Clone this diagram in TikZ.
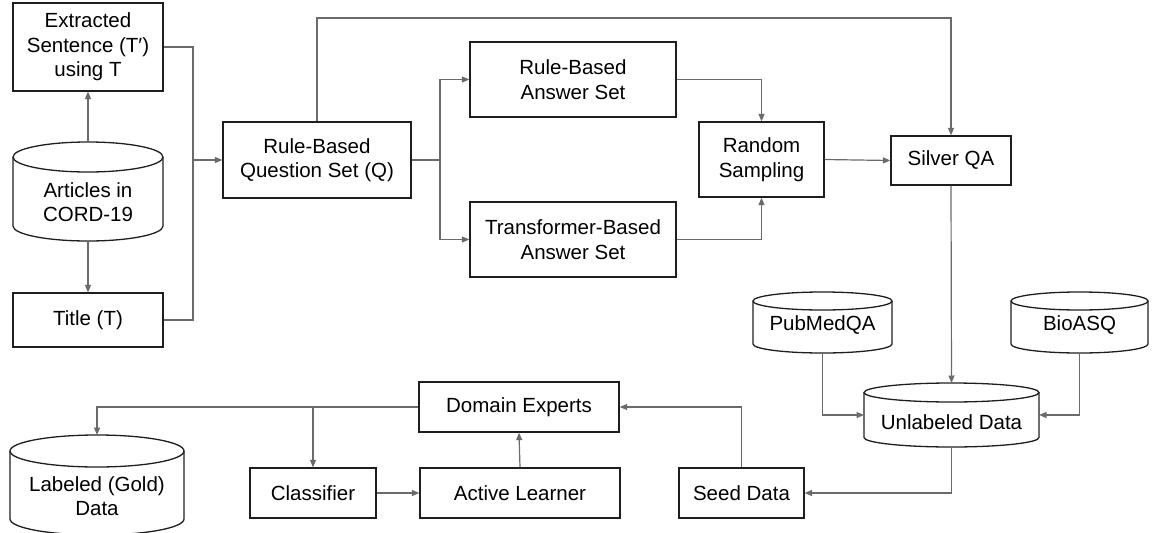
\documentclass[tikz,border=0pt]{standalone}
\usepackage{fontspec}
\setmainfont{Liberation Sans}
\usetikzlibrary{arrows.meta,calc}

\definecolor{edgegray}{HTML}{6A6A6A}
\definecolor{boxline}{HTML}{1E1E1E}

\tikzset{
  base/.style={font=\fontsize{20.5}{24.5}\selectfont, align=center, inner sep=0pt, text=black},
  box/.style={base, draw=boxline, line width=1.3pt},
  dbbox/.style={inner sep=0pt, outer sep=0pt},
  dblabel/.style={base},
  dbline/.style={draw=boxline, line width=1.3pt},
  conn/.style={draw=edgegray, line width=1.2pt},
  arr/.style={conn, -{Triangle[length=7.5pt,width=6pt]}},
}

% database cylinder: name, centre x, top y, bottom y, half width, end radius
\newcommand\dbnode[6]{%
  \node[dbbox, minimum width=2*#5 pt, minimum height=#4-#3 pt] (#1) at (#2,{(#3+#4)/2}) {};
  \draw[dbline] (#2-#5,#3+#6) -- (#2-#5,#4-#6)
     arc[start angle=180, end angle=360, x radius=#5pt, y radius=#6pt]
     -- (#2+#5,#3+#6);
  \draw[dbline] (#2,#3+#6) ellipse [x radius=#5pt, y radius=#6pt];
}

\begin{document}
\begin{tikzpicture}[x=1pt, y=-1pt]
\useasboundingbox (0,0) rectangle (1152,533);
\clip (0,0) rectangle (1152,533);

% ---- source articles
\node[box, minimum width=150pt, minimum height=88pt] (ext) at (88,47)
  {Extracted\\Sentence (T′)\\using T};
\dbnode{art}{88}{142}{241}{75}{15}
\node[dblabel] (artL) at (88,202) {Articles in\\CORD-19};
\node[box, minimum width=150pt, minimum height=54pt] (title) at (88,320) {Title (T)};

% ---- question and answer generation
\node[box, minimum width=188pt, minimum height=76pt] (q) at (317,160)
  {Rule-Based\\Question Set (Q)};
\node[box, minimum width=206pt, minimum height=75pt] (rba) at (573,79.5)
  {Rule-Based\\Answer Set};
\node[box, minimum width=206pt, minimum height=75pt] (tba) at (573,239.5)
  {Transformer-Based\\Answer Set};
\node[box, minimum width=125pt, minimum height=75pt] (rs) at (761.5,159.5)
  {Random\\Sampling};
\node[box, minimum width=120pt, minimum height=49pt] (sqa) at (951,160.5) {Silver QA};

% ---- data pools
\dbnode{pub}{822.5}{292}{353}{69.5}{9}
\node[dblabel] (pubL) at (822.5,325) {PubMedQA};
\dbnode{bio}{1079.5}{292}{353}{68.5}{9}
\node[dblabel] (bioL) at (1079.5,325) {BioASQ};
\dbnode{unl}{951.5}{383}{447}{87.5}{9.5}
\node[dblabel] (unlL) at (951.5,422) {Unlabeled Data};

% ---- active learning loop
\node[box, minimum width=200pt, minimum height=50pt] (dom) at (519,407) {Domain Experts};
\node[box, minimum width=200pt, minimum height=50pt] (act) at (520,493) {Active Learner};
\node[box, minimum width=126pt, minimum height=50pt] (cls) at (313,493) {Classifier};
\node[box, minimum width=125pt, minimum height=50pt] (seed) at (741.5,493) {Seed Data};
\dbnode{lab}{97}{435}{535}{87}{16}
\node[dblabel] (labL) at (97,496) {Labeled (Gold)\\Data};

% ---- junctions
\coordinate (jin) at (193,160);
\coordinate (jout) at (440,160);
\coordinate (topline) at (600,18);

% ---- connectors
\draw[arr] (art.north) -- (ext.south);
\draw[arr] (art.south) -- (title.north);
\draw[conn] (ext.east) -| (jin);
\draw[conn] (title.east) -| (jin);
\draw[arr] (jin) -- (q.west);
\draw[conn] (q.east) -- (jout);
\draw[arr] (jout) |- (rba.west);
\draw[arr] (jout) |- (tba.west);
\draw[arr] (rba.east) -| (rs.north);
\draw[arr] (tba.east) -| (rs.south);
\draw[arr] (rs.east) -- (sqa.west);
\draw[conn] (q.north) |- (topline);
\draw[arr] (topline) -| (sqa.north);
\draw[arr] (sqa.south) -- (unl.north);
\draw[arr] (pub.south) |- (unl.west);
\draw[arr] (bio.south) |- (unl.east);
\draw[arr] (unl.south) |- (seed.east);
\draw[arr] (seed.north) |- (dom.east);
\draw[arr] (act.north) -- (dom.south);
\draw[arr] (cls.east) -- (act.west);
\draw[arr] (dom.west) -| (lab.north);
\draw[arr] (cls.north |- dom.west) -- (cls.north);
\end{tikzpicture}
\end{document}
